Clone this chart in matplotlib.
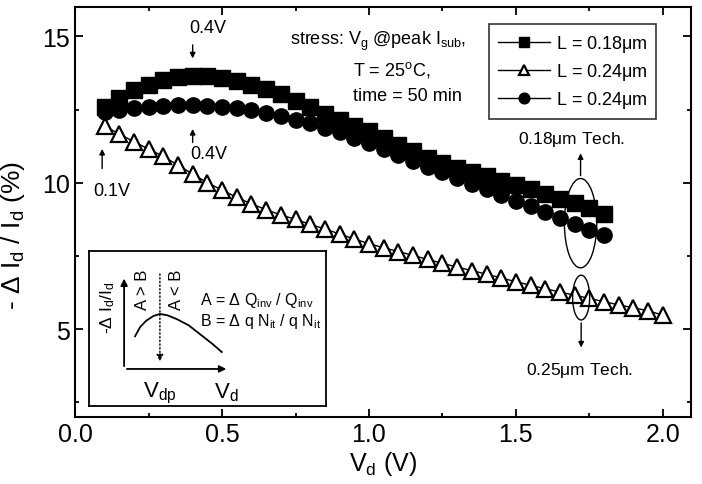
import matplotlib.pyplot as plt
from matplotlib.patches import Ellipse

plt.rcParams['font.family'] = ['Liberation Sans', 'DejaVu Sans']
plt.rcParams['mathtext.default'] = 'regular'

# drain voltage grid (V) and degradation (%)
vd_short = [0.10, 0.15, 0.20, 0.25, 0.30, 0.35, 0.40, 0.45, 0.50, 0.55, 0.60, 0.65,
            0.70, 0.75, 0.80, 0.85, 0.90, 0.95, 1.00, 1.05, 1.10, 1.15, 1.20, 1.25,
            1.30, 1.35, 1.40, 1.45, 1.50, 1.55, 1.60, 1.65, 1.70, 1.75, 1.80]
vd_long = vd_short + [1.85, 1.90, 1.95, 2.00]

sq_018 = [12.6, 12.9, 13.15, 13.35, 13.5, 13.6, 13.65, 13.63, 13.57, 13.48, 13.35, 13.2,
          13.02, 12.8, 12.57, 12.36, 12.15, 11.95, 11.75, 11.52, 11.3, 11.07, 10.85, 10.68,
          10.52, 10.37, 10.22, 10.07, 9.93, 9.78, 9.62, 9.45, 9.3, 9.13, 8.95]
tri_024 = [11.93, 11.67, 11.4, 11.15, 10.9, 10.6, 10.3, 10.0, 9.75, 9.5, 9.28, 9.08,
           8.9, 8.75, 8.58, 8.42, 8.25, 8.08, 7.92, 7.78, 7.65, 7.52, 7.38, 7.25,
           7.12, 7.0, 6.88, 6.75, 6.62, 6.5, 6.38, 6.27, 6.16, 6.05, 5.94, 5.83,
           5.73, 5.63, 5.48]
cir_024 = [12.4, 12.5, 12.56, 12.6, 12.63, 12.65, 12.65, 12.63, 12.6, 12.55, 12.48, 12.38,
           12.27, 12.15, 12.03, 11.88, 11.72, 11.54, 11.35, 11.15, 10.95, 10.75, 10.55, 10.35,
           10.15, 9.96, 9.77, 9.58, 9.38, 9.19, 9.0, 8.8, 8.6, 8.4, 8.2]

# inset schematic curve (inset axes units)
sk_x = [0.193, 0.215, 0.24, 0.27, 0.298, 0.33, 0.37, 0.42, 0.47, 0.52, 0.559]
sk_y = [0.45, 0.51, 0.55, 0.58, 0.594, 0.585, 0.56, 0.52, 0.46, 0.40, 0.348]

fig = plt.figure(figsize=(7.02, 4.85), dpi=100)
ax = fig.add_axes([0.107, 0.138, 0.877, 0.8455])

ax.plot(vd_short, sq_018, '-s', color='black', ms=11, lw=1, label=r'L = 0.18$\mu$m', zorder=3)
ax.plot(vd_long, tri_024, '-^', color='black', mfc='white', mec='black', mew=1.6, ms=11, lw=1,
        label=r'L = 0.24$\mu$m', zorder=2)
ax.plot(vd_short, cir_024, '-o', color='black', ms=11, lw=1, label=r'L = 0.24$\mu$m', zorder=3)

ax.set_xlim(0, 2.095)
ax.set_ylim(2, 16)
ax.set_xticks([0.0, 0.5, 1.0, 1.5, 2.0])
ax.set_xticks([0.25, 0.75, 1.25, 1.75], minor=True)
ax.set_yticks([5, 10, 15])
ax.set_yticks([2.5, 7.5, 12.5], minor=True)
ax.tick_params(which='both', direction='in', top=True, right=True, width=1.3, labelsize=18)
ax.tick_params(which='major', length=6)
ax.tick_params(which='minor', length=3)
for s in ax.spines.values():
    s.set_linewidth(1.5)
ax.set_xlabel(r'$V_d$ (V)', fontsize=18, labelpad=2)
ax.set_ylabel(r'- $\Delta$ $I_d$ / $I_d$ (%)', fontsize=19)
ax.yaxis.set_label_coords(-0.078, 0.446)

leg = ax.legend(loc='upper left', bbox_to_anchor=(0.672, 0.959), borderaxespad=0,
                fancybox=False, edgecolor='black', fontsize=13, markerscale=0.7,
                handlelength=2.9, labelspacing=0.4, borderpad=0.5, handletextpad=0.3)
leg.get_frame().set_linewidth(1.2)

# annotations
ax.text(0.73, 14.86, r'stress: $V_g$ @peak $I_{sub}$,', fontsize=13, va='center')
ax.text(0.945, 13.9, r'T = 25$^o$C,', fontsize=13, va='center')
ax.text(0.945, 12.98, 'time = 50 min', fontsize=13, va='center')

arrow = dict(arrowstyle='-|>', color='black', lw=1, mutation_scale=8)
ax.text(0.45, 15.3, '0.4V', fontsize=13, ha='center', va='center')
ax.annotate('', xy=(0.4, 14.15), xytext=(0.4, 14.8), arrowprops=arrow)
ax.text(0.455, 11.0, '0.4V', fontsize=13, ha='center', va='center')
ax.annotate('', xy=(0.4, 11.93), xytext=(0.4, 11.28), arrowprops=arrow)
ax.text(0.126, 9.74, '0.1V', fontsize=13, ha='center', va='center')
ax.annotate('', xy=(0.092, 11.25), xytext=(0.092, 10.39), arrowprops=arrow)

ax.add_patch(Ellipse((1.72, 8.62), 0.11, 3.05, fill=False, lw=1, zorder=5))
ax.add_patch(Ellipse((1.722, 6.08), 0.058, 1.53, fill=False, lw=1, zorder=5))
ax.annotate('', xy=(1.72, 11.1), xytext=(1.72, 10.15), arrowprops=arrow)
ax.text(1.69, 11.52, r'0.18$\mu$m Tech.', fontsize=12.5, ha='center', va='center')
ax.annotate('', xy=(1.722, 4.28), xytext=(1.722, 5.31), arrowprops=arrow)
ax.text(1.715, 3.63, r'0.25$\mu$m Tech.', fontsize=12.5, ha='center', va='center')

# inset schematic
ins = ax.inset_axes([0.023, 0.027, 0.385, 0.378])
ins.set_xlim(0, 1)
ins.set_ylim(0, 1)
ins.set_xticks([])
ins.set_yticks([])
for s in ins.spines.values():
    s.set_linewidth(1.3)
ax_arrow = dict(arrowstyle='-|>', color='black', lw=1.3, mutation_scale=10)
ins.annotate('', xy=(0.147, 0.84), xytext=(0.147, 0.239), arrowprops=ax_arrow)
ins.annotate('', xy=(0.59, 0.239), xytext=(0.147, 0.239), arrowprops=ax_arrow)
ins.plot(sk_x, sk_y, color='black', lw=1.3)
ins.annotate('', xy=(0.298, 0.27), xytext=(0.298, 0.87),
             arrowprops=dict(arrowstyle='-|>', color='black', lw=1, ls=':', mutation_scale=10))
ins.text(0.076, 0.64, r'-$\Delta$ $I_d$/$I_d$', rotation=90, fontsize=12.5, ha='center', va='center')
ins.text(0.223, 0.755, 'A > B', rotation=90, fontsize=12, ha='center', va='center')
ins.text(0.37, 0.755, 'A < B', rotation=90, fontsize=12, ha='center', va='center')
ins.text(0.298, 0.09, r'$V_{dp}$', fontsize=16, ha='center', va='center')
ins.text(0.58, 0.09, r'$V_d$', fontsize=16, ha='center', va='center')
ins.text(0.466, 0.69, r'A = $\Delta$ $Q_{inv}$ / $Q_{inv}$', fontsize=11.5, va='center')
ins.text(0.466, 0.55, r'B = $\Delta$ q $N_{it}$ / q $N_{it}$', fontsize=11.5, va='center')

fig.savefig('out.png', dpi=100)
